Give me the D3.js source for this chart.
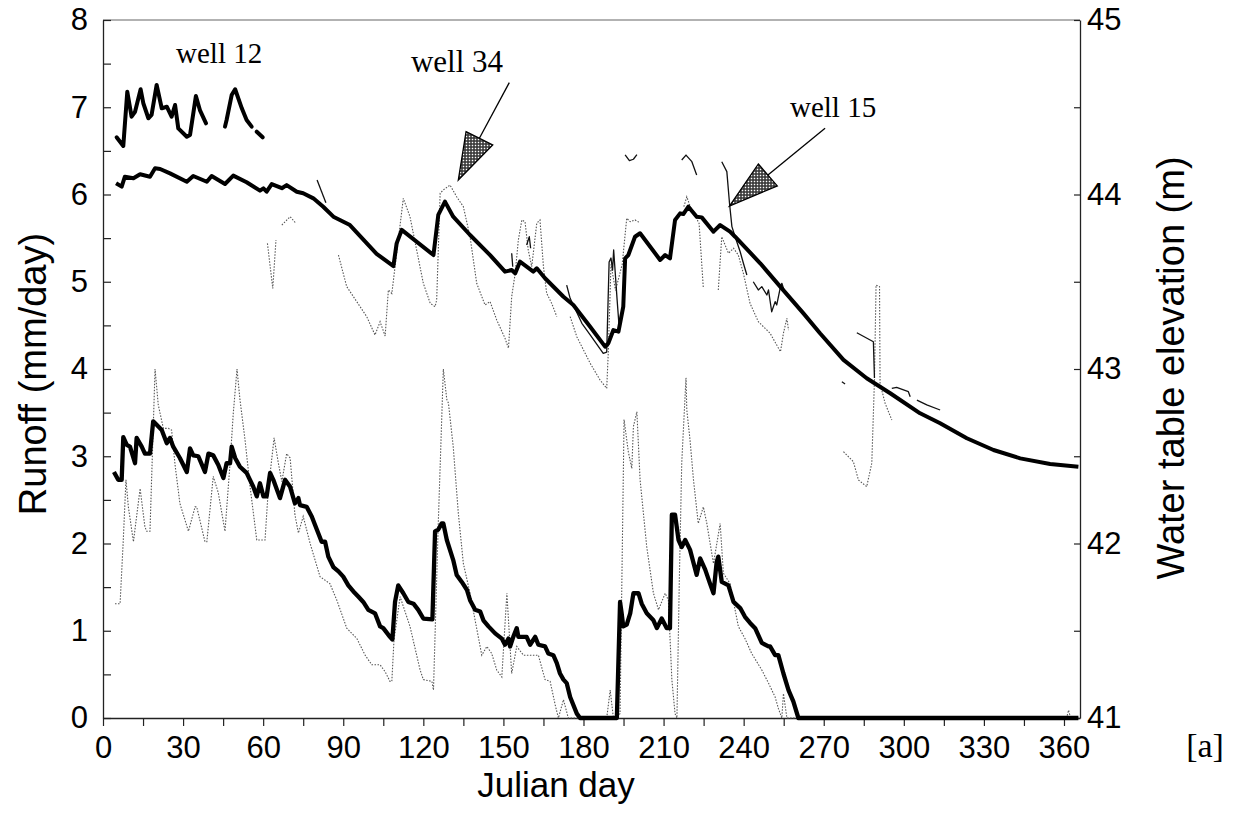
<!DOCTYPE html>
<html><head><meta charset="utf-8">
<script src="https://cdn.jsdelivr.net/npm/d3@7"></script>
<style>
html,body{margin:0;padding:0;background:#fff;}
svg{display:block;background:#fff;}
</style></head><body>
<svg id="chart" width="1239" height="829"></svg>
<script>
// ---------------- DATA ----------------
const dayTicks = d3.range(0, 361, 15);
const runoffTicks = d3.range(0, 8.01, 0.5);
const elevTicks = d3.range(41, 45.01, 0.5);

// simulated water table elevation (m), [day, m]
const wtSimulated = [[4.9,44.064],[7.0,44.045],[8.2,44.102],[11.4,44.093],[13.9,44.116],[17.6,44.102],[19.5,44.150],[21.4,44.146],[25.1,44.121],[31.4,44.073],[33.8,44.106],[38.9,44.073],[40.7,44.106],[45.7,44.060],[48.8,44.108],[53.8,44.070],[58.8,44.022],[60.1,44.035],[61.3,44.016],[63.2,44.060],[67.0,44.036],[68.8,44.054],[72.6,44.016],[75.0,44.007],[78.8,43.978],[82.5,43.930],[86.3,43.873],[92.5,43.825],[102.5,43.66],[108.8,43.59],[110.0,43.720],[111.9,43.797],[123.8,43.653],[125.6,43.883],[128.1,43.959],[131.2,43.873],[137.5,43.768],[145.0,43.653],[150.6,43.558],[153.1,43.567],[154.4,43.548],[156.2,43.615],[161.2,43.558],[162.5,43.577],[165.6,43.520],[172.5,43.414],[176.2,43.367],[182.5,43.242],[188.1,43.128],[189.3,43.147],[191.2,43.223],[193.1,43.214],[194.9,43.357],[195.6,43.634],[196.8,43.653],[199.3,43.758],[201.2,43.778],[208.7,43.625],[210.6,43.653],[212.4,43.634],[214.3,43.854],[216.2,43.892],[217.4,43.888],[219.3,43.930],[222.4,43.873],[224.3,43.869],[228.7,43.787],[231.2,43.825],[234.9,43.787],[236.8,43.758],[246.2,43.606],[253.7,43.472],[262.4,43.319],[268.6,43.205],[277.4,43.052],[286.1,42.947],[294.9,42.861],[306.1,42.746],[313.6,42.689],[323.6,42.603],[333.6,42.536],[343.6,42.488],[354.8,42.456],[365.4,42.440]];

// observed well 12 (thick), segments
const well12Obs = [
  [[5.1,44.328],[7.6,44.278],[9.1,44.589],[10.7,44.446],[12.0,44.474],[14.1,44.603],[15.1,44.523],[17.0,44.437],[18.2,44.456],[20.1,44.628],[22.0,44.494],[23.9,44.503],[25.7,44.446],[27.0,44.513],[28.2,44.379],[31.4,44.331],[32.6,44.341],[34.8,44.564],[36.3,44.484],[38.6,44.408]],
  [[45.7,44.389],[46.3,44.427],[48.2,44.570],[49.5,44.603],[52.0,44.494],[53.8,44.427],[55.7,44.389]],
  [[57.6,44.360],[59.8,44.328]]
];

// observed well 34 (dotted), segments
const well34Obs = [
  [[61.6,43.720],[63.6,43.462],[64.8,43.739]],
  [[67.0,43.825],[70.1,43.873],[72.3,43.834]],
  [[88.2,43.653],[91.3,43.472],[98.8,43.300],[101.9,43.195],[103.8,43.271],[105.7,43.189],[106.9,43.453],[108.2,43.433],[112.5,43.978],[115.0,43.873],[117.5,43.682],[120.0,43.491],[122.6,43.376],[124.4,43.357],[125.0,43.395],[126.3,44.007],[127.5,44.026],[130.0,44.054],[132.5,43.987],[135.0,43.930],[137.5,43.758],[140.0,43.491],[143.1,43.367],[145.0,43.386],[147.5,43.281],[150.6,43.176],[151.9,43.119],[153.1,43.414],[154.4,43.548],[155.6,43.739],[156.9,43.854],[158.1,43.844],[159.3,43.682],[160.6,43.586],[162.5,43.835],[163.7,43.854],[165.0,43.586],[166.2,43.434],[168.1,43.376],[170.0,43.300]],
  [[175.0,43.300],[177.5,43.185],[182.5,43.033],[186.2,42.937],[188.7,42.889],[189.3,43.10],[190.3,43.60],[192.0,43.45],[194.5,43.60],[196.2,43.864],[197.5,43.844],[199.3,43.854],[201.2,43.838]],
  [[217.6,43.93],[218.7,43.987],[220.0,43.93],[223.3,43.835],[224.9,43.462]],
  [[230.5,43.453],[231.8,43.758],[234.3,43.663],[236.2,43.692],[238.0,43.653],[239.9,43.548],[242.4,43.376],[245.5,43.271],[249.9,43.205],[253.8,43.099],[254.9,43.205],[256.2,43.291],[256.8,43.223]],
  [[277.4,42.526],[281.1,42.469],[283.0,42.364],[286.1,42.326],[288.0,42.460],[289.0,42.937],[289.6,43.481],[290.9,43.472],[291.1,42.918],[293.0,42.803],[295.5,42.708]]
];

// observed well 15 (thin solid), segments
const well15Obs = [
  [[80.2,44.083],[83.5,43.953]],
  [[153.1,43.663],[153.5,43.586]],
  [[158.7,43.711],[159.7,43.758],[160.2,43.692]],
  [[173.7,43.481],[175.0,43.405],[179.4,43.262],[182.5,43.195],[187.4,43.090],[188.7,43.097],[189.6,43.613],[190.3,43.636],[190.9,43.567],[191.3,43.682],[192.6,43.395],[193.3,43.252]],
  [[195.6,44.227],[197.2,44.194],[198.7,44.202],[200.0,44.228]],
  [[216.8,44.198],[218.4,44.226],[220.6,44.188],[222.4,44.112]],
  [[231.8,44.188],[233.7,44.131],[234.7,43.950],[235.6,43.816],[236.8,43.758],[238.7,43.672],[239.9,43.606],[241.2,43.539]],
  [[243.6,43.500],[245.5,43.453],[246.8,43.472],[248.7,43.424],[249.3,43.453],[250.5,43.328],[251.8,43.386],[252.4,43.367],[253.8,43.472],[254.3,43.491],[255.5,43.434]],
  [[276.8,42.927],[278.0,42.914]],
  [[282.4,43.208],[288.6,43.156],[289.0,42.948]],
  [[295.5,42.889],[297.3,42.895],[301.7,42.870],[302.4,42.841]],
  [[304.9,42.822],[308.6,42.794],[313.6,42.765]]
];

// simulated runoff (mm/day), [day, value]
const runoffSimulated = [[4.1,2.82],[5.7,2.73],[7.0,2.73],[7.6,3.22],[8.9,3.13],[10.1,3.11],[12.0,2.92],[12.6,3.21],[14.5,3.11],[15.7,3.03],[17.6,3.03],[18.8,3.40],[20.1,3.36],[22.0,3.30],[23.9,3.15],[25.1,3.21],[26.3,3.11],[28.8,2.98],[31.4,2.82],[32.6,3.09],[33.8,3.01],[35.7,3.00],[38.2,2.82],[39.5,3.03],[41.3,3.01],[43.2,2.90],[45.1,2.75],[46.3,2.92],[47.6,2.92],[48.2,3.11],[49.5,2.98],[51.3,2.88],[53.8,2.81],[56.3,2.65],[57.6,2.54],[58.8,2.69],[60.1,2.54],[61.3,2.54],[62.6,2.81],[63.8,2.73],[66.3,2.52],[68.2,2.73],[70.1,2.65],[71.9,2.46],[73.2,2.52],[73.8,2.44],[76.3,2.42],[78.2,2.31],[80.1,2.16],[81.9,2.02],[83.2,2.02],[84.4,1.85],[86.3,1.73],[88.2,1.68],[90.0,1.62],[91.9,1.52],[93.8,1.45],[95.7,1.39],[97.5,1.33],[99.4,1.24],[101.9,1.20],[103.8,1.05],[105.0,1.03],[107.5,0.93],[108.4,0.90],[109.4,1.33],[110.6,1.52],[112.5,1.43],[114.4,1.33],[116.3,1.31],[118.1,1.24],[120.0,1.14],[123.4,1.13],[124.4,2.14],[125.6,2.16],[126.9,2.23],[127.5,2.23],[128.8,2.04],[131.2,1.81],[132.5,1.64],[134.4,1.56],[136.3,1.47],[137.5,1.35],[139.4,1.24],[141.3,1.22],[142.5,1.12],[144.4,1.05],[146.9,0.97],[149.4,0.91],[150.6,0.84],[151.9,0.91],[152.5,0.82],[153.7,0.93],[155.0,1.03],[155.6,0.93],[158.7,0.93],[160.0,0.84],[161.9,0.93],[163.1,0.84],[165.6,0.82],[166.8,0.74],[168.7,0.72],[170.0,0.63],[171.2,0.51],[172.5,0.44],[173.7,0.40],[175.0,0.24],[177.5,0.05],[178.7,0],[192.5,0],[193.7,1.33],[194.3,1.20],[194.9,1.05],[196.2,1.07],[197.5,1.20],[198.7,1.43],[200.6,1.43],[201.8,1.31],[203.7,1.20],[206.2,1.12],[207.5,1.03],[209.3,1.14],[211.2,1.03],[212.4,1.03],[213.1,2.33],[214.3,2.33],[215.6,2.04],[216.8,1.96],[218.1,2.04],[219.9,1.93],[222.4,1.64],[223.7,1.83],[225.6,1.70],[227.4,1.54],[228.7,1.43],[229.9,1.79],[230.5,1.85],[231.8,1.56],[234.3,1.52],[236.2,1.33],[238.7,1.26],[240.5,1.16],[242.4,1.09],[244.3,1.03],[246.8,0.86],[249.3,0.82],[249.9,0.82],[251.8,0.72],[253.0,0.72],[254.9,0.51],[256.8,0.32],[258.6,0.19],[260.5,0],[365.4,0]];

// observed runoff (mm/day), [day, value]
const runoffObserved = [[4.5,1.31],[6.4,1.31],[7.6,2.04],[8.6,2.73],[9.5,2.42],[11.4,2.02],[13.9,2.63],[15.7,2.19],[16.4,2.14],[17.6,2.14],[19.5,4.0],[20.7,3.59],[22.6,3.32],[24.5,3.32],[25.7,3.30],[27.0,2.90],[28.8,2.46],[32.0,2.14],[34.5,2.42],[35.1,2.42],[38.2,2.02],[38.9,2.02],[41.3,2.77],[43.2,2.58],[45.7,2.14],[47.6,2.92],[48.8,3.49],[50.2,4.0],[51.3,3.65],[53.2,3.19],[55.1,2.65],[57.6,2.04],[60.7,2.04],[61.9,2.61],[64.1,3.21],[65.7,2.92],[67.0,2.71],[68.8,3.03],[70.1,2.98],[71.9,2.33],[73.2,2.12],[75.0,2.31],[77.6,2.00],[81.3,1.62],[85.0,1.54],[87.6,1.35],[91.3,1.03],[95.1,0.91],[98.2,0.72],[100.7,0.61],[103.8,0.61],[105.7,0.53],[107.5,0.42],[108.2,0.42],[109.0,0.89],[111.3,1.39],[115.0,1.05],[118.8,0.55],[120.0,0.44],[123.2,0.42],[123.8,0.32],[125.6,2.23],[127.5,4.0],[128.8,3.65],[129.4,3.61],[131.2,3.11],[133.1,2.35],[135.0,1.77],[137.5,1.43],[139.4,1.12],[141.9,0.72],[143.8,0.82],[145.6,0.74],[147.5,0.55],[149.4,0.47],[151.3,1.43],[153.1,0.51],[155.0,0.82],[157.5,0.72],[163.1,0.72],[165.6,0.44],[167.5,0.42],[169.4,0.15],[170.6,0],[172.5,0.21],[174.3,0],[188.7,0],[190.0,0.32],[191.2,0],[193.7,0.05],[195.2,3.42],[196.8,3.05],[198.1,2.86],[198.7,3.34],[200.0,3.51],[201.2,2.73],[203.7,1.96],[206.2,1.43],[208.1,1.24],[210.6,1.43],[211.8,1.35],[213.1,0.44],[214.3,0.05],[215.0,0],[215.9,1.58],[216.8,2.92],[218.4,3.90],[218.7,3.53],[219.9,3.19],[221.2,2.73],[223.0,2.23],[224.9,2.42],[226.2,2.23],[228.7,1.77],[231.2,2.23],[232.4,1.66],[234.9,1.54],[238.0,1.05],[240.5,0.91],[243.0,0.74],[246.8,0.55],[249.3,0.40],[251.8,0.24],[253.0,0.11],[254.3,0],[254.9,0.28],[256.2,0],[361.0,0],[361.7,0.09],[362.5,0],[365.4,0]];

// annotations in data units (day, elevation m)
const wellLabels = [
  {text:"well 12", day:43.5, m:44.751, size:29},
  {text:"well 34", day:132.6, m:44.702, size:31},
  {text:"well 15", day:273.5, m:44.446, size:29}
];
const arrows = [
  {from:[152.2,44.641], to:[141.0,44.322], tri:[[136.0,44.360],[146.0,44.284],[133.1,44.083]]},
  {from:[270.5,44.379], to:[249.1,44.112], tri:[[245.5,44.175],[252.6,44.049],[234.7,43.934]]}
];

// ---------------- CHART ----------------
const svg = d3.select("#chart");
const M = {left:103, right:1080, top:20, bottom:718};
const x  = d3.scaleLinear().domain([0,366]).range([M.left, M.right]);
const yL = d3.scaleLinear().domain([0,8]).range([M.bottom, M.top]);
const yR = d3.scaleLinear().domain([41,45]).range([M.bottom, M.top]);
const FONT = '"Liberation Sans", Arial, Helvetica, sans-serif';
const SERIF = '"Liberation Serif", "Times New Roman", Times, serif';

const defs = svg.append("defs");
const pat = defs.append("pattern").attr("id","stip").attr("patternUnits","userSpaceOnUse")
  .attr("width",3).attr("height",3);
pat.append("rect").attr("width",3).attr("height",3).attr("fill","#333");
pat.append("rect").attr("x",0.75).attr("y",0.75).attr("width",1.5).attr("height",1.5).attr("fill","#fff");

// frame top line
svg.append("line").attr("x1",x(0)).attr("x2",x(366)).attr("y1",yL(8)).attr("y2",yL(8))
  .attr("stroke","#666").attr("stroke-width",1.2);

const intFmt = v => Number.isInteger(v) ? String(v) : "";
function styleAxis(g){
  g.attr("font-family",FONT).attr("font-size",31);
  g.selectAll(".domain").attr("stroke","#222").attr("stroke-width",1.3);
  g.selectAll(".tick line").attr("stroke","#222").attr("stroke-width",1.2);
  g.selectAll(".tick text").attr("fill","#000");
}
svg.append("g").attr("transform",`translate(${M.left},0)`)
  .call(d3.axisLeft(yL).tickValues(runoffTicks).tickFormat(intFmt).tickSize(-8).tickSizeOuter(0).tickPadding(15))
  .call(styleAxis);
svg.append("g").attr("transform",`translate(${M.right},0)`)
  .call(d3.axisRight(yR).tickValues(elevTicks).tickFormat(intFmt).tickSize(-6).tickSizeOuter(0).tickPadding(7))
  .call(styleAxis);
svg.append("g").attr("transform",`translate(0,${M.bottom})`)
  .call(d3.axisBottom(x).tickValues(dayTicks).tickFormat(v => v % 30 === 0 ? String(v) : "").tickSize(8).tickSizeOuter(0).tickPadding(10))
  .call(styleAxis);

const lineL = d3.line().x(d => x(d[0])).y(d => yL(d[1]));
const lineR = d3.line().x(d => x(d[0])).y(d => yR(d[1]));

// dotted observed
svg.append("path").datum(runoffObserved).attr("d",lineL).attr("fill","none")
  .attr("stroke","#555").attr("stroke-width",1.1).attr("stroke-dasharray","1.5 1.5");
well34Obs.forEach(seg => svg.append("path").datum(seg).attr("d",lineR).attr("fill","none")
  .attr("stroke","#555").attr("stroke-width",1.1).attr("stroke-dasharray","1.5 1.5"));
// thin solid observed
well15Obs.forEach(seg => svg.append("path").datum(seg).attr("d",lineR).attr("fill","none")
  .attr("stroke","#111").attr("stroke-width",1.3).attr("stroke-linejoin","round"));
// thick lines
well12Obs.forEach(seg => svg.append("path").datum(seg).attr("d",lineR).attr("fill","none")
  .attr("stroke","#000").attr("stroke-width",4).attr("stroke-linejoin","round").attr("stroke-linecap","round"));
svg.append("path").datum(wtSimulated).attr("d",lineR).attr("fill","none")
  .attr("stroke","#000").attr("stroke-width",4).attr("stroke-linejoin","round");
svg.append("path").datum(runoffSimulated).attr("d",lineL).attr("fill","none")
  .attr("stroke","#000").attr("stroke-width",4.3).attr("stroke-linejoin","round");

// annotations
wellLabels.forEach(l => svg.append("text").attr("x",x(l.day)).attr("y",yR(l.m))
  .attr("text-anchor","middle").attr("font-family",SERIF).attr("font-size",l.size).attr("fill","#000").text(l.text));
arrows.forEach(a => {
  svg.append("line").attr("x1",x(a.from[0])).attr("y1",yR(a.from[1]))
    .attr("x2",x(a.to[0])).attr("y2",yR(a.to[1])).attr("stroke","#000").attr("stroke-width",1.3);
  svg.append("polygon").attr("points",a.tri.map(p => [x(p[0]),yR(p[1])].join(",")).join(" "))
    .attr("fill","url(#stip)").attr("stroke","#000").attr("stroke-width",1.3);
});

// axis titles
svg.append("text").attr("transform",`translate(46,374) rotate(-90)`).attr("text-anchor","middle")
  .attr("font-family",FONT).attr("font-size",38).attr("fill","#000").text("Runoff (mm/day)");
svg.append("text").attr("transform",`translate(1184,368) rotate(-90)`).attr("text-anchor","middle")
  .attr("font-family",FONT).attr("font-size",38).attr("fill","#000").text("Water table elevation (m)");
svg.append("text").attr("x",556).attr("y",797).attr("text-anchor","middle")
  .attr("font-family",FONT).attr("font-size",35).attr("fill","#000").text("Julian day");
svg.append("text").attr("x",1205).attr("y",757).attr("text-anchor","middle")
  .attr("font-family",SERIF).attr("font-size",34).attr("fill","#000").text("[a]");
</script>
</body></html>
